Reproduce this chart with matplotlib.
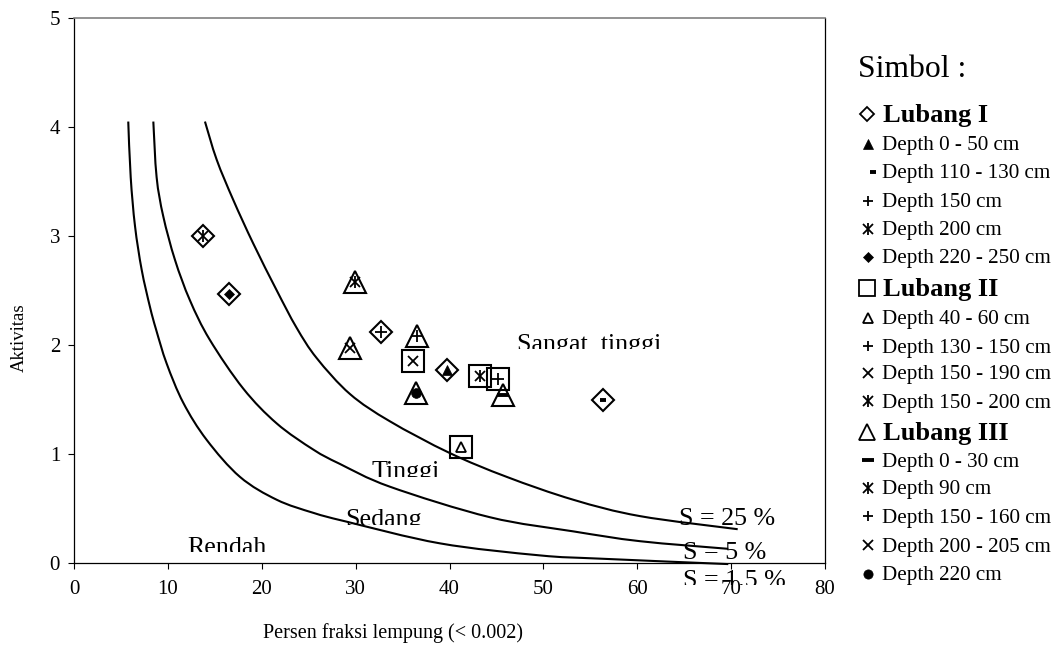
import matplotlib
matplotlib.use("Agg")
import matplotlib.pyplot as plt
from matplotlib.patches import Rectangle, PathPatch
from matplotlib.path import Path

plt.rcParams['font.family'] = ['Liberation Serif', 'DejaVu Serif']

# ---------------- data ----------------
# iso-swell curves (x = % clay, y = activity)
c15_x = [5.78, 6.04, 6.50, 7.21, 8.09, 8.75, 9.87, 11.64, 14.13, 17.68, 21.6, 25.5, 29.0, 39.0, 49.6, 56.0, 69.7]
c15_y = [4.05, 3.54, 3.09, 2.69, 2.35, 2.14, 1.83, 1.47, 1.13, 0.79, 0.58, 0.46, 0.38, 0.18, 0.07, 0.04, -0.01]
c5_x = [8.45, 8.80, 9.51, 10.76, 12.35, 14.45, 18.03, 21.6, 25.5, 28.3, 33.65, 44.3, 53.2, 60.3, 69.7]
c5_y = [4.05, 3.54, 3.18, 2.78, 2.41, 2.05, 1.60, 1.28, 1.04, 0.91, 0.70, 0.42, 0.29, 0.20, 0.13]
c25_x = [13.95, 15.2, 16.97, 19.1, 21.6, 23.7, 25.85, 29.4, 33.65, 40.0, 46.1, 53.2, 60.3, 70.7]
c25_y = [4.05, 3.70, 3.33, 2.93, 2.50, 2.16, 1.88, 1.55, 1.30, 1.01, 0.79, 0.58, 0.43, 0.31]

# Lubang I (diamond)
l1_depths = ["Depth 0 - 50 cm", "Depth 110 - 130 cm", "Depth 150 cm", "Depth 200 cm", "Depth 220 - 250 cm"]
l1_x = [39.76, 56.4, 32.66, 13.77, 16.54]
l1_y = [1.77, 1.50, 2.12, 3.00, 2.47]
l1_inner = ["tri_f", "dash_s", "plus", "ast", "dia_f"]

# Lubang II (square)
l2_depths = ["Depth 40 - 60 cm", "Depth 130 - 150 cm", "Depth 150 - 190 cm", "Depth 150 - 200 cm"]
l2_x = [41.2, 45.2, 36.1, 43.3]
l2_y = [1.06, 1.69, 1.85, 1.72]
l2_inner = ["tri_o", "plus", "x", "ast"]

# Lubang III (triangle)
l3_depths = ["Depth 0 - 30 cm", "Depth 90 cm", "Depth 150 - 160 cm", "Depth 200 - 205 cm", "Depth 220 cm"]
l3_x = [45.65, 29.9, 36.5, 29.4, 36.4]
l3_y = [1.54, 2.58, 2.08, 1.97, 1.56]
l3_inner = ["dash_l", "ast", "plus", "x", "circ"]

x_ticks = [0, 10, 20, 30, 40, 50, 60, 70, 80]
y_ticks = [0, 1, 2, 3, 4, 5]

# ---------------- figure ----------------
W, H = 1059, 648
fig = plt.figure(figsize=(W / 100, H / 100), dpi=100)
ax = fig.add_axes([74 / W, (H - 563) / H, (825 - 74) / W, (563 - 18) / H])
ax.set_xlim(0, 80)
ax.set_ylim(0, 5)
ax.set_xticks(x_ticks)
ax.set_yticks(y_ticks)
ax.tick_params(direction='out', length=4, width=0.8, labelsize=15, colors='black')
ax.tick_params(axis='x', pad=8)
ax.tick_params(axis='y', pad=6)
for s in ['left', 'bottom', 'right']:
    ax.spines[s].set_color('black')
    ax.spines[s].set_linewidth(0.9)
ax.spines['top'].set_color('#808080')
ax.spines['top'].set_linewidth(1.2)

ax.set_xlabel("Persen fraksi lempung (< 0.002)", fontsize=14.5)
ax.set_ylabel("Aktivitas", fontsize=13.5)
ax.yaxis.set_label_coords(-0.062, 0.414)
ax.xaxis.set_label_coords(0.425, -0.11)


def smooth_line(a, xs, ys):
    """Draw a smoothed line (like a spreadsheet 'smoothed line') through the
    read points using cubic Bezier segments rendered by matplotlib's Path."""
    pts = list(zip(xs, ys))
    n = len(pts)
    verts = [pts[0]]
    codes = [Path.MOVETO]
    for i in range(n - 1):
        p0 = pts[i - 1] if i > 0 else pts[i]
        p1 = pts[i]
        p2 = pts[i + 1]
        p3 = pts[i + 2] if i + 2 < n else pts[i + 1]
        c1 = (p1[0] + (p2[0] - p0[0]) / 6, p1[1] + (p2[1] - p0[1]) / 6)
        c2 = (p2[0] - (p3[0] - p1[0]) / 6, p2[1] - (p3[1] - p1[1]) / 6)
        verts += [c1, c2, p2]
        codes += [Path.CURVE4] * 3
    patch = PathPatch(Path(verts, codes), facecolor='none', edgecolor='black',
                      lw=1.5, clip_on=False, zorder=2, capstyle='butt')
    a.add_patch(patch)


for cx, cy in [(c15_x, c15_y), (c5_x, c5_y), (c25_x, c25_y)]:
    smooth_line(ax, cx, cy)


def inner(a, x, y, kind, scale=1.0):
    k = dict(linestyle='none', color='black', clip_on=False, zorder=5)
    if kind == "tri_f":
        a.plot(x, y, marker='^', ms=7 * scale, mfc='black', mec='black', mew=0.5, **k)
    elif kind == "dash_s":
        a.plot(x, y, marker='_', ms=4.5 * scale, mew=2.8, **k)
    elif kind == "dash_l":
        a.plot(x, y, marker='_', ms=9 * scale, mew=2.8, **k)
    elif kind == "plus":
        a.plot(x, y, marker='+', ms=8 * scale, mew=1.3, **k)
    elif kind == "x":
        a.plot(x, y, marker='x', ms=7 * scale, mew=1.3, **k)
    elif kind == "ast":
        a.plot(x, y, marker='x', ms=7 * scale, mew=1.3, **k)
        a.plot(x, y, marker='|', ms=8.5 * scale, mew=1.3, **k)
    elif kind == "dia_f":
        a.plot(x, y, marker='D', ms=5.5 * scale, mfc='black', mec='black', mew=0.5, **k)
    elif kind == "tri_o":
        a.plot(x, y, marker='^', ms=7 * scale, mfc='none', mec='black', mew=1.3, **k)
    elif kind == "circ":
        a.plot(x, y, marker='o', ms=7 * scale, mfc='black', mec='black', mew=0.5, **k)


outer_style = dict(linestyle='none', mfc='none', mec='black', mew=1.5, clip_on=False, zorder=4)
ax.plot(l1_x, l1_y, marker='D', ms=11.5, **outer_style)
ax.plot(l2_x, l2_y, marker='s', ms=16, **outer_style)
ax.plot(l3_x, l3_y, marker='^', ms=16.5, **outer_style)
for xs, ys, ks in [(l1_x, l1_y, l1_inner), (l2_x, l2_y, l2_inner), (l3_x, l3_y, l3_inner)]:
    for x, y, kd in zip(xs, ys, ks):
        inner(ax, x, y, kd)

# region / curve labels (bottoms are clipped as in the original)
labels = [
    ("Sangat  tinggi", 47.2, 1.945, 1.963),
    ("Tinggi", 31.7, 0.78, 0.79),
    ("Sedang", 28.9, 0.34, 0.35),
    ("Rendah", 12.07, 0.083, 0.104),
    ("S = 25 %", 64.5, 0.351, 0.34),
    ("S = 5 %", 64.9, 0.037, 0.03),
    ("S = 1.5 %", 64.9, -0.22, -0.20),
]
for txt, x, y, clip_y in labels:
    t = ax.text(x, y, txt, fontsize=18.7, ha='left', va='baseline', zorder=3, clip_on=True)
    t.set_clip_path(Rectangle((x - 5, clip_y), 40, 3, transform=ax.transData))

# ---------------- custom legend ----------------
lax = fig.add_axes([0, 0, 1, 1])
lax.set_xlim(0, W)
lax.set_ylim(H, 0)
lax.axis('off')
lax.patch.set_visible(False)

lax.text(858, 77, "Simbol :", fontsize=22.8, ha='left', va='baseline')

sym_x = 868
txt_x = 882
groups = [
    ("Lubang I", 'D', 7.6, 122, l1_depths, l1_inner, [150, 178, 207, 235, 263]),
    ("Lubang II", 's', 11.0, 296, l2_depths, l2_inner, [324, 352.7, 379.3, 407.7]),
    ("Lubang III", '^', 11.5, 440, l3_depths, l3_inner, [466.7, 494, 522.7, 551.7, 580]),
]
for name, mk, ms, yb, depths, kinds, ybs in groups:
    lax.plot(sym_x - 1, yb - 8.5, marker=mk, ms=ms, mfc='none', mec='black', mew=1.3,
             linestyle='none')
    lax.text(txt_x + 1, yb, name, fontsize=19, fontweight='bold', ha='left', va='baseline')
    for d, kd, y in zip(depths, kinds, ybs):
        sx = sym_x + 5 if kd == "dash_s" else sym_x
        inner(lax, sx, y - 6.5, kd, scale=0.95)
        lax.text(txt_x, y, d, fontsize=15.2, ha='left', va='baseline')

fig.savefig("out.png", dpi=100)
